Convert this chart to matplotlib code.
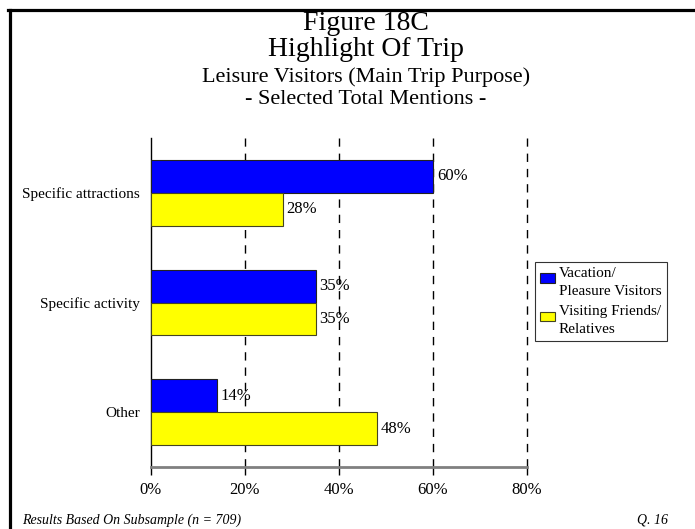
import matplotlib
matplotlib.use('Agg')
import matplotlib.pyplot as plt
import matplotlib.patches as mpatches
from matplotlib.container import BarContainer
from matplotlib.legend_handler import HandlerPatch, update_from_first_child
import numpy as np

categories = ['Specific attractions', 'Specific activity', 'Other']
vacation = [60, 35, 14]
friends = [28, 35, 48]
series_names = ['Vacation/\nPleasure Visitors', 'Visiting Friends/\nRelatives']
x_ticks = [0, 20, 40, 60, 80]

plt.rcParams['font.family'] = ['Liberation Serif', 'DejaVu Serif']


def top_patch(legend, orig_handle, xdescent, ydescent, width, height, fontsize):
    # small square sitting next to the first line of a two-line label
    ph = 0.65 * fontsize
    return mpatches.Rectangle((-xdescent, -ydescent + height - ph - 0.22 * fontsize),
                              width, ph)


fig = plt.figure(figsize=(6.95, 5.29), dpi=100)
ax = fig.add_axes([151 / 695, 1 - 467 / 529, 376 / 695, 329 / 529])

pos = np.arange(len(categories)) + 0.5
h = 0.3
b1 = ax.barh(pos - h / 2, vacation, height=h, color='#0000ff', edgecolor='#222222',
             linewidth=0.8, label=series_names[0], zorder=3)
b2 = ax.barh(pos + h / 2, friends, height=h, color='#ffff00', edgecolor='#444422',
             linewidth=0.8, label=series_names[1], zorder=3)

for bars in (b1, b2):
    for r in bars:
        w = r.get_width()
        ax.text(w + 0.8, r.get_y() + r.get_height() / 2, f'{w:.0f}%',
                va='center', ha='left', fontsize=12)

ax.set_xlim(0, 80)
ax.set_ylim(3, 0)
ax.set_xticks(x_ticks)
ax.set_xticklabels([f'{t}%' for t in x_ticks], fontsize=12)
ax.set_yticks(pos)
ax.set_yticklabels(categories, fontsize=11)
ax.tick_params(axis='y', length=0, pad=8)
ax.tick_params(axis='x', length=6, width=1, color='black', pad=5)

for t in x_ticks[1:]:
    ax.axvline(t, color='black', linewidth=1, linestyle=(0, (6, 5)), zorder=1,
               clip_on=False)

for s in ('top', 'right'):
    ax.spines[s].set_visible(False)
ax.spines['left'].set_color('black')
ax.spines['left'].set_linewidth(1)
ax.spines['bottom'].set_color('#808080')
ax.spines['bottom'].set_linewidth(2)

handler = HandlerPatch(patch_func=top_patch, update_func=update_from_first_child)
leg = ax.legend(loc='upper left', bbox_to_anchor=(535 / 695, 1 - 262 / 529),
                bbox_transform=fig.transFigure, fontsize=11, frameon=True,
                fancybox=False, edgecolor='black', handlelength=0.95,
                handleheight=2.2, handletextpad=0.25, borderpad=0.35,
                labelspacing=0.5, borderaxespad=0,
                handler_map={BarContainer: handler})
leg.get_frame().set_linewidth(0.8)
for txt in leg.get_texts():
    txt.set_linespacing(1.45)

cx = 366 / 695
fig.text(cx, 1 - 24 / 529, 'Figure 18C', ha='center', va='center', fontsize=20)
fig.text(cx, 1 - 50 / 529, 'Highlight Of Trip', ha='center', va='center', fontsize=20)
fig.text(cx, 1 - 77 / 529, 'Leisure Visitors (Main Trip Purpose)', ha='center',
         va='center', fontsize=16)
fig.text(cx, 1 - 100 / 529, '- Selected Total Mentions -', ha='center',
         va='center', fontsize=16)

fig.text(22 / 695, 1 - 520 / 529, 'Results Based On Subsample (n = 709)',
         ha='left', va='center', fontsize=10, style='italic')
fig.text(668 / 695, 1 - 520 / 529, 'Q. 16', ha='right', va='center',
         fontsize=10, style='italic')

# frame lines on left and top
fig.add_artist(plt.Line2D([9.5 / 695, 9.5 / 695], [0, 1 - 9.5 / 529],
                          transform=fig.transFigure, color='black', linewidth=2.3))
fig.add_artist(plt.Line2D([8 / 695, 1], [1 - 9.5 / 529, 1 - 9.5 / 529],
                          transform=fig.transFigure, color='black', linewidth=2.3))

fig.savefig('out.png', dpi=100)
